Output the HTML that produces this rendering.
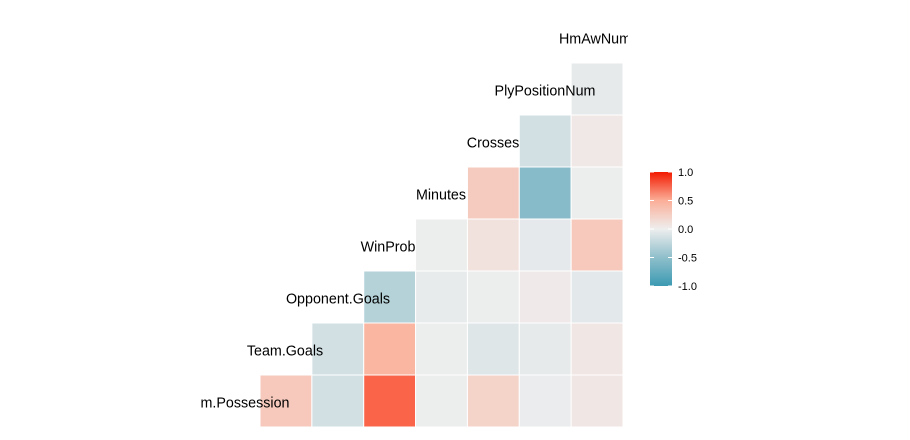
<!DOCTYPE html>
<html><head><meta charset="utf-8"><style>
html,body{margin:0;padding:0;background:#fff;}
svg{display:block;font-family:"Liberation Sans",Arial,sans-serif;}
</style></head><body>
<svg id="chart" width="910" height="440" viewBox="0 0 910 440">
<defs>
<clipPath id="clip"><rect x="0" y="0" width="628" height="440"/></clipPath>
<linearGradient id="grad" x1="0" y1="1" x2="0" y2="0">
<stop offset="0" stop-color="#3B9AB2"/><stop offset="0.25" stop-color="#8FBFCB"/>
<stop offset="0.5" stop-color="#EEEEEE"/><stop offset="0.75" stop-color="#FBAE98"/>
<stop offset="1" stop-color="#F21A00"/></linearGradient>
</defs>
<g id="cells"></g>
<g id="labels" clip-path="url(#clip)"></g>
<g>
<rect x="650" y="172" width="22" height="114" fill="url(#grad)"/>
<g id="legend-ticks"></g>
</g>
</svg>
<script>
const variables = ["m.Possession","Team.Goals","Opponent.Goals","WinProb","Minutes","Crosses","PlyPositionNum","HmAwNum"];
// correlation rows (bottom to top); row r has cells in columns r..6
const row0 = [0.30,-0.15,0.78,-0.01,0.22,-0.02,0.06];
const row1 = [-0.15,0.45,-0.01,-0.08,-0.04,0.06];
const row2 = [-0.30,-0.03,-0.01,0.03,-0.06];
const row3 = [-0.01,0.10,-0.05,0.30];
const row4 = [0.28,-0.55,-0.01];
const row5 = [-0.15,0.05];
const row6 = [-0.04];
const legendTicks = [1.0,0.5,0.0,-0.5,-1.0];
const labelCenters = [245,285,338,388,441,493,545,595];

const rows=[row0,row1,row2,row3,row4,row5,row6];
const cw=51.86, ch=52, x0=260, yb=427;
const xPos=c=>x0+c*cw;
const yPos=r=>yb-(r+1)*ch;
const stops=[[-1,[59,154,178]],[-0.5,[143,191,203]],[0,[238,238,238]],[0.5,[252,176,154]],[1,[248,40,10]]];
function color(v){for(let i=0;i<stops.length-1;i++){const a=stops[i],b=stops[i+1];if(v<=b[0]){const t=(v-a[0])/(b[0]-a[0]);const c=a[1].map((x,k)=>Math.round(x+(b[1][k]-x)*t));return `rgb(${c.join(',')})`;}}return 'rgb(248,40,10)';}
const NS="http://www.w3.org/2000/svg";
const cg=document.getElementById('cells');
rows.forEach((row,r)=>{row.forEach((v,i)=>{const c=r+i;const el=document.createElementNS(NS,'rect');
el.setAttribute('x',xPos(c));el.setAttribute('y',yPos(r));el.setAttribute('width',cw);el.setAttribute('height',ch);
el.setAttribute('fill',color(v));el.setAttribute('stroke','#ffffff');el.setAttribute('stroke-width','1');


cg.appendChild(el);});});
const lg=document.getElementById('labels');
variables.forEach((name,r)=>{const t=document.createElementNS(NS,'text');
t.setAttribute('x',labelCenters[r]);t.setAttribute('y',yPos(r)+ch/2+6.5);t.setAttribute('text-anchor','middle');
t.setAttribute('font-size','14.3');t.setAttribute('fill','#000');t.textContent=name;


lg.appendChild(t);});
const tg=document.getElementById('legend-ticks');
legendTicks.forEach(v=>{const y=286-(v+1)/2*114;
const l=document.createElementNS(NS,'line');l.setAttribute('x1',650);l.setAttribute('x2',654);l.setAttribute('y1',y);l.setAttribute('y2',y);l.setAttribute('stroke','#fff');


tg.appendChild(l);
const l2=document.createElementNS(NS,'line');l2.setAttribute('x1',668);l2.setAttribute('x2',672);l2.setAttribute('y1',y);l2.setAttribute('y2',y);l2.setAttribute('stroke','#fff');


tg.appendChild(l2);
const t=document.createElementNS(NS,'text');t.setAttribute('x',678);t.setAttribute('y',y+4);t.setAttribute('font-size','11');t.setAttribute('fill','#000');
t.textContent=v.toFixed(1);


tg.appendChild(t);});
</script>
</body></html>
